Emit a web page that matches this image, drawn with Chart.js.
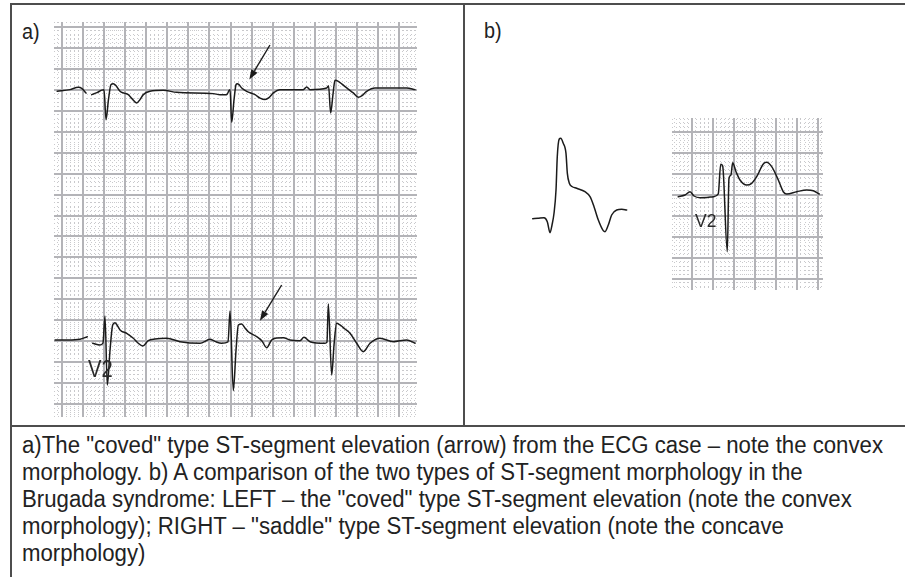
<!DOCTYPE html>
<html>
<head>
<meta charset="utf-8">
<script src="https://cdn.jsdelivr.net/npm/chart.js@4.4.1/dist/chart.umd.min.js"></script>
<style>
  html, body { margin: 0; padding: 0; background: #fff; }
  #fig { position: relative; width: 905px; height: 577px; overflow: hidden; background: #fff;
         font-family: 'Liberation Sans', Arial, Helvetica, sans-serif; color: #222; }
  .rule { position: absolute; background: #4d4d4d; }
  .cv { position: absolute; }
  .lbl { position: absolute; font-size: 22px; line-height: 22px; color: #222; transform-origin: 0 0; transform: scaleX(0.9); }
  .lead { position: absolute; line-height: 1; color: #2a2a2a; transform-origin: 0 0; }
  #caption { position: absolute; left: 22px; top: 432px; font-size: 23px; line-height: 27px; white-space: nowrap; transform-origin: 0 0; color: #222; }
</style>
</head>
<body>
<div id="fig">
  <div class="rule" style="left:10px;top:3px;width:895px;height:2px"></div>
  <div class="rule" style="left:10px;top:3px;width:2px;height:574px"></div>
  <div class="rule" style="left:463px;top:3px;width:2px;height:423px"></div>
  <div class="rule" style="left:10px;top:425px;width:895px;height:2px"></div>

  <div class="lbl" style="left:22px;top:21px">a)</div>
  <div class="lbl" style="left:484px;top:20px">b)</div>

  <canvas class="cv" id="stripA" width="363" height="395" style="left:54px;top:22px"></canvas>
  <canvas class="cv" id="coved" width="120" height="130" style="left:520px;top:120px"></canvas>
  <canvas class="cv" id="saddle" width="151" height="172" style="left:672px;top:118px"></canvas>

  <div class="lead" style="left:88px;top:357px;font-size:24px;transform:scaleX(0.84)">V2</div>
  <div class="lead" style="left:695px;top:211px;font-size:19px;transform:scaleX(0.92)">V2</div>

  <div id="caption">
    <div id="capLine1">a)The &quot;coved&quot; type ST-segment elevation (arrow) from the ECG case – note the convex</div>
    <div>morphology. b) A comparison of the two types of ST-segment morphology in the</div>
    <div>Brugada syndrome: LEFT – the &quot;coved&quot; type ST-segment elevation (note the convex</div>
    <div>morphology); RIGHT – &quot;saddle&quot; type ST-segment elevation (note the concave</div>
    <div>morphology)</div>
  </div>
</div>

<script>
// ---- Recorded traces: time in seconds, amplitude in mV (25 mm/s, 10 mm/mV paper) ----

// Strip a), upper lead: short lead-in fragment, then the main run
const upperLeadT  = [-0.045, 0.076, 0.155, 0.190, 0.228];
const upperLeadMv = [-0.04, 0.00, 0.055, 0.024, -0.079];
const upperT  = [0.282, 0.332, 0.377, 0.399, 0.418, 0.441, 0.465, 0.487, 0.513, 0.551, 0.589, 0.629, 0.664, 0.709, 0.740,
                 0.772, 0.835, 0.962, 1.089, 1.436, 1.500, 1.563, 1.585, 1.595, 1.611, 1.633, 1.652, 1.664, 1.680, 1.706,
                 1.753, 1.832, 1.880, 1.927, 1.965, 2.006, 2.069, 2.290, 2.323, 2.354, 2.513, 2.530, 2.550, 2.572, 2.591,
                 2.623, 2.658, 2.703, 2.765, 2.813, 2.848, 2.892, 2.971, 3.113, 3.272, 3.351];
const upperMv = [-0.119, -0.071, -0.012, 0.000, -0.715, -0.238, 0.119, 0.143, 0.095, -0.040, -0.083, -0.119, -0.214, -0.317, -0.238,
                 -0.119, -0.040, -0.017, -0.064, -0.095, -0.119, -0.119, -0.024, 0.000, -0.779, -0.238, 0.119, 0.143, 0.119, 0.040,
                 -0.040, -0.119, -0.203, -0.238, -0.191, -0.079, 0.000, 0.000, 0.064, 0.000, 0.040, 0.095, -0.555, -0.119, 0.222,
                 0.198, 0.131, 0.040, -0.079, -0.183, -0.143, -0.040, 0.040, 0.040, 0.040, 0.000];

// Strip a), lower lead (V2)
const lowerLeadT  = [-0.066, 0.057, 0.171, 0.240];
const lowerLeadMv = [0.033, 0.033, 0.050, 0.112];
const lowerT  = [0.291, 0.361, 0.389, 0.408, 0.430, 0.456, 0.481, 0.503, 0.522, 0.551, 0.614, 0.677, 0.721, 0.766, 0.819,
                 0.883, 0.994, 1.120, 1.310, 1.405, 1.452, 1.516, 1.576, 1.595, 1.626, 1.652, 1.674, 1.706, 1.737, 1.768,
                 1.848, 1.898, 1.943, 1.990, 2.040, 2.101, 2.164, 2.259, 2.297, 2.354, 2.496, 2.515, 2.528, 2.560, 2.582,
                 2.607, 2.639, 2.686, 2.734, 2.797, 2.860, 2.924, 3.018, 3.145, 3.272, 3.351];
const lowerMv = [-0.045, -0.086, -0.038, 0.605, -1.039, -0.205, 0.391, 0.446, 0.391, 0.272, 0.193, 0.074, -0.038, -0.110, 0.017,
                 0.057, 0.074, -0.007, -0.045, 0.050, 0.000, -0.045, -0.014, 0.724, -1.175, -0.205, 0.391, 0.415, 0.319, 0.231,
                 0.112, 0.010, -0.150, 0.033, 0.081, 0.088, 0.033, 0.017, 0.098, -0.007, -0.045, -0.014, 0.891, -0.801, -0.086,
                 0.431, 0.391, 0.296, 0.193, -0.045, -0.245, -0.045, 0.074, -0.007, 0.033, -0.045];

// Arrows on strip a): [tail t, tail mV, tip t, tip mV], measured on each lead
const upperArrow = [1.974, 1.064, 1.778, 0.240];
const lowerArrow = [2.085, 1.344, 1.879, 0.493];

// Panel b), left: "coved" complex
const covedT  = [0.000, 0.050, 0.108, 0.139, 0.165, 0.184, 0.203, 0.222, 0.234, 0.253, 0.267, 0.291, 0.317, 0.330, 0.349,
                 0.374, 0.419, 0.498, 0.546, 0.584, 0.625, 0.672, 0.689, 0.720, 0.752, 0.800, 0.848, 0.895];
const covedMv = [-0.017, -0.007, 0.007, -0.088, -0.350, -0.167, 0.112, 0.667, 1.460, 1.881, 1.898, 1.779, 1.540, 1.064, 0.826,
                 0.750, 0.707, 0.626, 0.507, 0.269, -0.048, -0.302, -0.326, -0.167, 0.071, 0.190, 0.207, 0.190];

// Panel b), right: "saddle-back" complex in V2
const saddleT  = [-0.128, -0.064, -0.016, 0.022, 0.079, 0.146, 0.206, 0.253, 0.276, 0.295, 0.339, 0.355, 0.374, 0.390, 0.422,
                  0.460, 0.524, 0.571, 0.619, 0.682, 0.714, 0.762, 0.825, 0.872, 0.905, 1.000, 1.095, 1.158, 1.215];
const saddleMv = [-0.048, -0.007, 0.071, -0.031, -0.071, -0.067, -0.048, 0.017, 0.724, 0.683, -1.357, 0.390, 0.469, 0.762, 0.548,
                  0.350, 0.231, 0.271, 0.429, 0.731, 0.771, 0.667, 0.350, 0.071, 0.017, 0.071, 0.112, 0.095, 0.017];

// ---- Paper and styling ----
const BIG_T = 0.2, SMALL_T = 0.04;   // seconds per large / small box
const BIG_MV = 0.5, SMALL_MV = 0.1;  // mV per large / small box
const INK = '#1b1b1b';
const MAJOR = '#b4b4b8';
const MINOR = '#c9c9cc';

function pts(t, mv, offset) {
  return t.map((x, i) => ({ x: x, y: mv[i] + (offset || 0) }));
}

function gridValues(min, max, step, skipEvery) {
  const out = [];
  const first = Math.ceil(min / step - 1e-6), last = Math.floor(max / step + 1e-6);
  for (let k = first; k <= last; k++) {
    if (skipEvery && k % skipEvery === 0) continue;
    out.push(+(k * step).toFixed(6));
  }
  return out;
}

function paperAxis(min, max, values, color, width, dash, pos) {
  return {
    type: 'linear', position: pos, min: min, max: max, display: true,
    ticks: { display: false, autoSkip: false },
    grid: { color: color, lineWidth: width, drawTicks: false, tickLength: 0 },
    border: { display: false, dash: dash },
    afterBuildTicks: ax => { ax.ticks = values.map(v => ({ value: v })); }
  };
}

function paperScales(xr, yr, withGrid) {
  if (!withGrid) {
    return {
      x: { type: 'linear', min: xr[0], max: xr[1], display: false },
      y: { type: 'linear', min: yr[0], max: yr[1], display: false }
    };
  }
  return {
    xm: paperAxis(xr[0], xr[1], gridValues(xr[0], xr[1], SMALL_T, 5), MINOR, 1, [1, 3], 'bottom'),
    ym: paperAxis(yr[0], yr[1], gridValues(yr[0], yr[1], SMALL_MV, 5), MINOR, 1, [1, 3], 'left'),
    x: paperAxis(xr[0], xr[1], gridValues(xr[0], xr[1], BIG_T), MAJOR, 2, [], 'bottom'),
    y: paperAxis(yr[0], yr[1], gridValues(yr[0], yr[1], BIG_MV), MAJOR, 2, [], 'left')
  };
}

function traceSet(data) {
  return {
    data: data, xAxisID: 'x', yAxisID: 'y',
    borderColor: INK, borderWidth: 1.5, pointRadius: 0, fill: false,
    cubicInterpolationMode: 'monotone', borderJoinStyle: 'round', borderCapStyle: 'round'
  };
}

// Draws arrow markers given in data coordinates
const arrowPlugin = {
  id: 'arrows',
  afterDatasetsDraw(chart, args, opts) {
    const { ctx, scales } = chart;
    (opts.items || []).forEach(a => {
      const x0 = scales.x.getPixelForValue(a[0]), y0 = scales.y.getPixelForValue(a[1]);
      const x1 = scales.x.getPixelForValue(a[2]), y1 = scales.y.getPixelForValue(a[3]);
      const ang = Math.atan2(y1 - y0, x1 - x0);
      const L = 10, W = 3.6;
      const bx = x1 - L * Math.cos(ang), by = y1 - L * Math.sin(ang);
      ctx.save();
      ctx.strokeStyle = INK; ctx.fillStyle = INK; ctx.lineWidth = 1.4;
      ctx.beginPath(); ctx.moveTo(x0, y0); ctx.lineTo(bx, by); ctx.stroke();
      ctx.beginPath();
      ctx.moveTo(x1, y1);
      ctx.lineTo(bx + W * Math.sin(ang), by - W * Math.cos(ang));
      ctx.lineTo(bx - W * Math.sin(ang), by + W * Math.cos(ang));
      ctx.closePath(); ctx.fill();
      ctx.restore();
    });
  }
};

const baseOptions = {
  responsive: false, animation: false, devicePixelRatio: 1,
  layout: { padding: 0 },
  plugins: { legend: { display: false }, tooltip: { enabled: false } },
  events: []
};

// Strip a): two leads on one sheet, upper lead sits 6 mV (12 large boxes) above the lower
const UPPER_OFFSET = 6.0;
const arrowItems = [
  [upperArrow[0], upperArrow[1] + UPPER_OFFSET, upperArrow[2], upperArrow[3] + UPPER_OFFSET],
  lowerArrow
];
new Chart(document.getElementById('stripA'), {
  type: 'line',
  data: {
    datasets: [
      traceSet(pts(upperLeadT, upperLeadMv, UPPER_OFFSET)),
      traceSet(pts(upperT, upperMv, UPPER_OFFSET)),
      traceSet(pts(lowerLeadT, lowerLeadMv)),
      traceSet(pts(lowerT, lowerMv))
    ]
  },
  options: Object.assign({}, baseOptions, {
    scales: paperScales([-0.0759, 3.3697], [-1.802, 7.612], true),
    plugins: Object.assign({}, baseOptions.plugins, { arrows: { items: arrowItems } })
  }),
  plugins: [arrowPlugin]
});

// Panel b), left: coved complex drawn without paper
new Chart(document.getElementById('coved'), {
  type: 'line',
  data: { datasets: [traceSet(pts(covedT, covedMv))] },
  options: Object.assign({}, baseOptions, { scales: paperScales([-0.121, 1.022], [-0.762, 2.333], false) })
});

// Panel b), right: saddle-back complex on paper
new Chart(document.getElementById('saddle'), {
  type: 'line',
  data: { datasets: [traceSet(pts(saddleT, saddleMv))] },
  options: Object.assign({}, baseOptions, { scales: paperScales([-0.1876, 1.2505], [-2.269, 1.826], true) })
});

// Caption block is set to span the lower panel's text width
function fitCaption() {
  const cap = document.getElementById('caption');
  cap.style.transform = 'none';
  const range = document.createRange();
  range.selectNodeContents(document.getElementById('capLine1'));
  const tw = range.getBoundingClientRect().width;
  if (tw > 0) cap.style.transform = 'scaleX(' + (861 / tw) + ')';
}
fitCaption();
if (document.fonts && document.fonts.ready) document.fonts.ready.then(fitCaption);
</script>
</body>
</html>
